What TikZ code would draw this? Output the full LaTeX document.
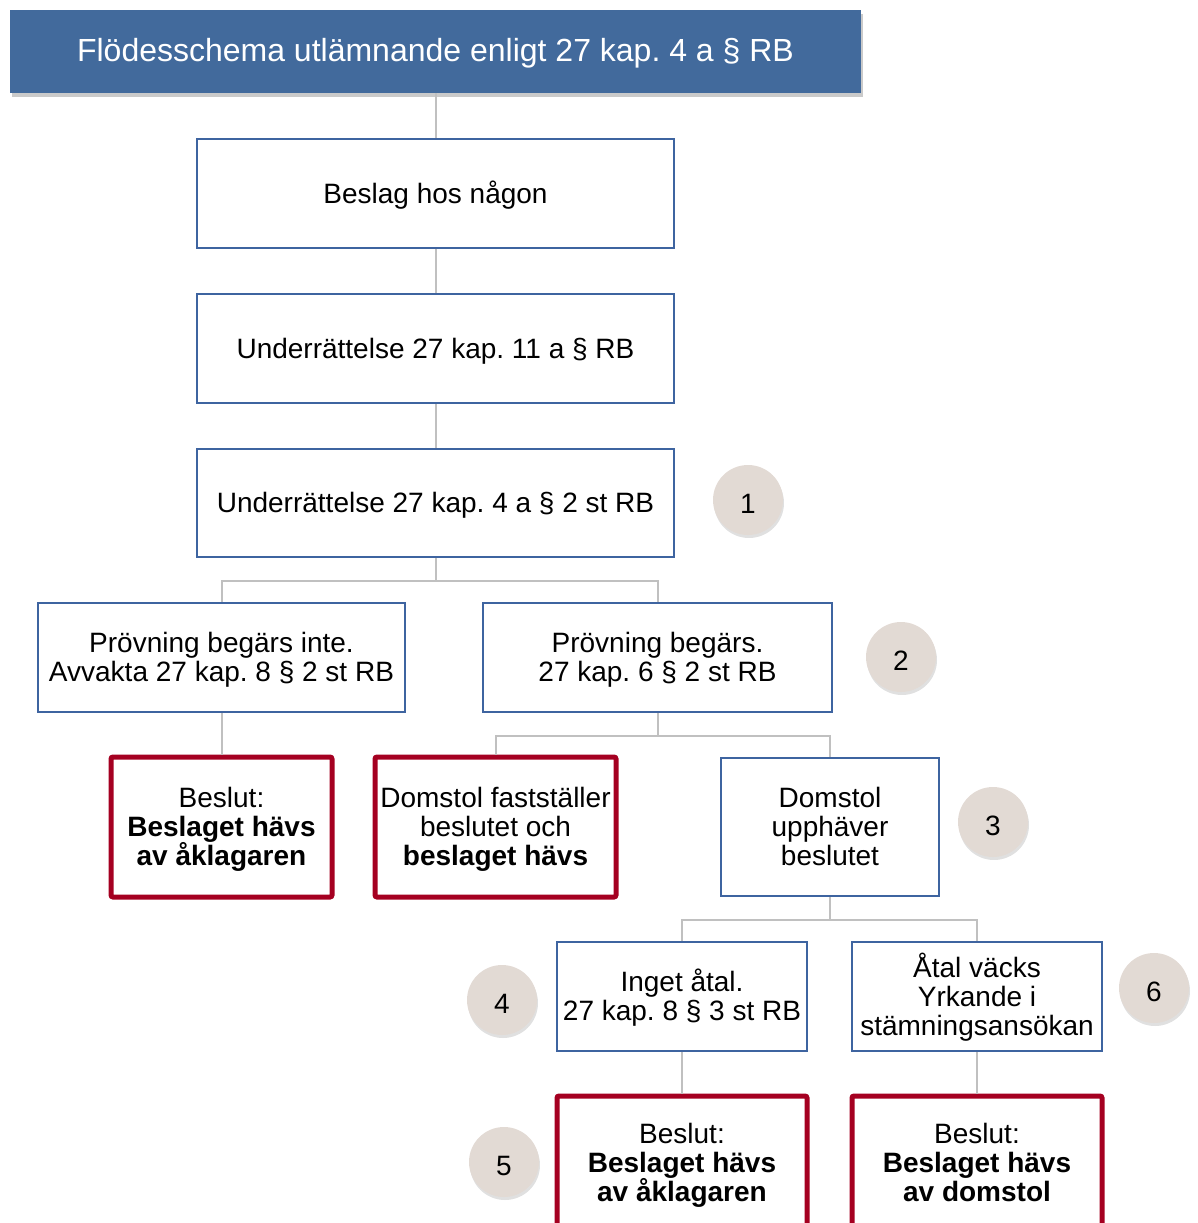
\documentclass[tikz,border=0pt]{standalone}
\usepackage{fontspec}
\setmainfont{Liberation Sans}
\usetikzlibrary{shadows}
\definecolor{titleblue}{RGB}{66,106,156}
\definecolor{boxblue}{RGB}{62,100,160}
\definecolor{decred}{RGB}{165,0,33}
\definecolor{circfill}{RGB}{226,218,212}
\definecolor{conngray}{RGB}{192,192,192}
\newcommand\tp{\rule{0pt}{26pt}}
\newcommand\bt{\rule[-6.5pt]{0pt}{6.5pt}}
\newcommand\cst{\rule[-1.5pt]{0pt}{29pt}}
\newcommand\tst{\rule[-8.3pt]{0pt}{36pt}}
\tikzset{
  txt/.style={font=\fontsize{28}{29}\selectfont\frenchspacing, align=center, inner sep=0pt},
  bluebox/.style={txt, draw=boxblue, line width=2pt, fill=white, rectangle},
  redbox/.style={txt, draw=decred, line width=5pt, fill=white, rectangle, rounded corners=2pt},
  numcirc/.style={txt, circle, fill=circfill, minimum size=70pt,
    drop shadow={shadow xshift=1pt, shadow yshift=-3pt, opacity=0.12, fill=black}},
  conn/.style={draw=conngray, line width=2pt},
  titlebar/.style={rectangle, fill=titleblue, text=white, inner sep=0pt,
    font=\fontsize{32}{36}\selectfont\frenchspacing,
    drop shadow={shadow xshift=2pt, shadow yshift=-4pt, opacity=0.35, fill=black!60}}
}
\begin{document}
\begin{tikzpicture}[x=1pt, y=-1pt]
\useasboundingbox (0,0) rectangle (1197,1223);
\clip (0,0) rectangle (1197,1223);

\node[titlebar, minimum width=851pt, minimum height=83pt] (title) at (435.5,51.5) {\tst Flödesschema utlämnande enligt 27 kap. 4 a § RB};

\node[bluebox, minimum width=477pt, minimum height=109pt] (b1) at (435.5,193.5) {\tp\bt Beslag hos någon};
\node[bluebox, minimum width=477pt, minimum height=109pt] (b2) at (435.5,348.5) {\tp\bt Underrättelse 27 kap. 11 a § RB};
\node[bluebox, minimum width=477pt, minimum height=108pt] (b3) at (435.5,503) {\tp\bt Underrättelse 27 kap. 4 a § 2 st RB};
\node[numcirc] (c1) at (748,500) {\cst 1};

\node[bluebox, minimum width=367pt, minimum height=109pt] (b4) at (221.5,657.5) {\tp Prövning begärs inte.\\\bt Avvakta 27 kap. 8 § 2 st RB};
\node[bluebox, minimum width=349pt, minimum height=109pt] (b5) at (657.5,657.5) {\tp Prövning begärs.\\\bt 27 kap. 6 § 2 st RB};
\node[numcirc] (c2) at (901,657) {\cst 2};

\node[redbox, minimum width=221pt, minimum height=140pt] (ra) at (221.5,827) {\tp Beslut:\\\textbf{Beslaget hävs}\\\bt\textbf{av åklagaren}};
\node[redbox, minimum width=241pt, minimum height=140pt] (rb) at (495.5,827) {\tp Domstol fastställer\\beslutet och\\\bt\textbf{beslaget hävs}};
\node[bluebox, minimum width=218pt, minimum height=138pt] (bc) at (830,827) {\tp Domstol\\upphäver\\\bt beslutet};
\node[numcirc] (c3) at (993,822) {\cst 3};

\node[bluebox, minimum width=250pt, minimum height=109pt] (bd) at (682,996.5) {\tp Inget åtal.\\\bt 27 kap. 8 § 3 st RB};
\node[bluebox, minimum width=250pt, minimum height=109pt] (be) at (977,996.5) {\tp Åtal väcks\\Yrkande i\\\bt stämningsansökan};
\node[numcirc] (c4) at (502,1000) {\cst 4};
\node[numcirc] (c6) at (1154,988) {\cst 6};

\node[redbox, minimum width=250pt, minimum height=134pt] (rf) at (682,1163) {\tp Beslut:\\\textbf{Beslaget hävs}\\\bt\textbf{av åklagaren}};
\node[redbox, minimum width=250pt, minimum height=134pt] (rg) at (977,1163) {\tp Beslut:\\\textbf{Beslaget hävs}\\\bt\textbf{av domstol}};
\node[numcirc] (c5) at (504,1162) {\cst 5};

\draw[conn] (title.south) -- (b1.north);
\draw[conn] (b1.south) -- (b2.north);
\draw[conn] (b2.south) -- (b3.north);
\draw[conn] (b3.south) -- ++(0,23) -| (b4.north);
\draw[conn] (b3.south) -- ++(0,23) -| (b5.north);
\draw[conn] (b4.south) -- (ra.north);
\draw[conn] (b5.south) -- ++(0,23) -| (rb.north);
\draw[conn] (b5.south) -- ++(0,23) -| (bc.north);
\draw[conn] (bc.south) -- ++(0,23) -| (bd.north);
\draw[conn] (bc.south) -- ++(0,23) -| (be.north);
\draw[conn] (bd.south) -- (rf.north);
\draw[conn] (be.south) -- (rg.north);
\end{tikzpicture}
\end{document}
